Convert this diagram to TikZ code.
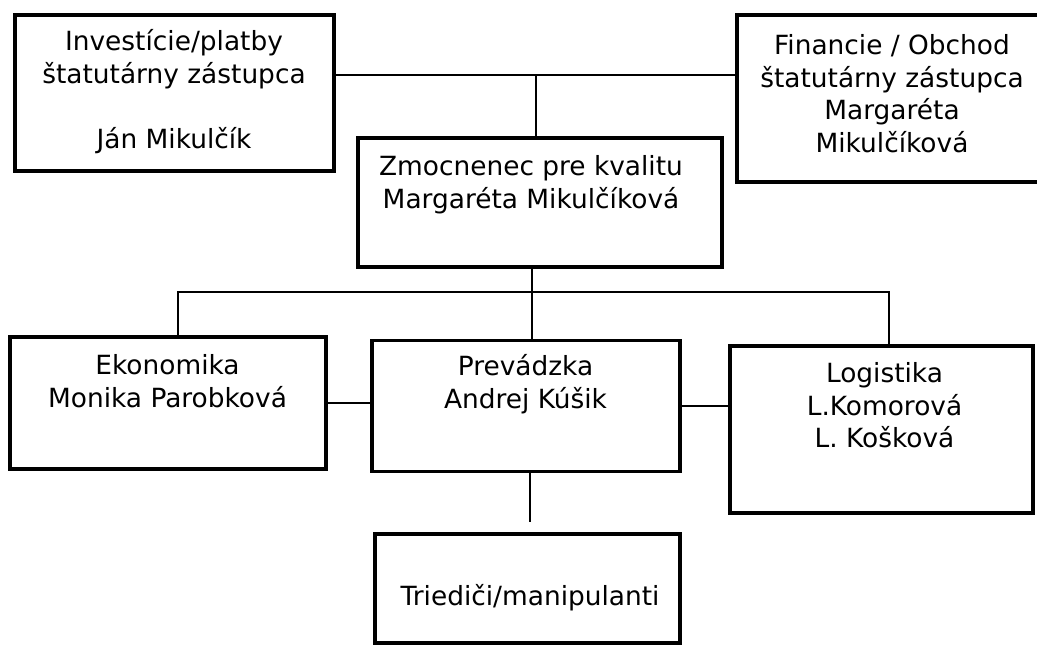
\documentclass[tikz,border=0pt]{standalone}
\usepackage{fontspec}
\setmainfont{DejaVu Sans}
\begin{document}
\begin{tikzpicture}[x=1pt,y=-1pt,
  box/.style={draw=black, line width=3.4pt, rectangle, inner sep=0pt},
  conn/.style={draw=black, line width=2.2pt},
  txt/.style={anchor=north, align=center, inner sep=0pt, text=black,
    font=\fontsize{26.4pt}{32.5pt}\selectfont, execute at begin node=\strut}]
\useasboundingbox (0,0) rectangle (1037,646);
\clip (0,0) rectangle (1037,646);
% boxes
\node[box, minimum width=319pt, minimum height=156pt] (b1) at (174.5,93) {};
\node[box, minimum width=310pt, minimum height=167pt] (b2) at (892,98.5) {};
\node[box, minimum width=364pt, minimum height=129pt] (mid) at (540,202.5) {};
\node[box, minimum width=316pt, minimum height=132pt] (eko) at (168,403) {};
\node[box, minimum width=308pt, minimum height=131pt] (prev) at (526,406) {};
\node[box, minimum width=303pt, minimum height=167pt] (log) at (881.5,429.5) {};
\node[box, minimum width=305pt, minimum height=109pt] (tri) at (527.5,588.5) {};
% texts
\node[txt] (b1t) at (174,29.25) {Investície/platby\\štatutárny zástupca\\[32.5pt]Ján Mikulčík};
\node[txt] (b2t) at (892,34.25) {Financie / Obchod\\štatutárny zástupca\\Margaréta\\Mikulčíková};
\node[txt] (midt) at (531,155.25) {Zmocnenec pre kvalitu\\Margaréta Mikulčíková};
\node[txt] (ekot) at (167.5,354.25) {Ekonomika\\Monika Parobková};
\node[txt] (prevt) at (525.5,354.25) {Prevádzka\\Andrej Kúšik};
\node[txt] (logt) at (884.5,362.25) {Logistika\\L.Komorová\\L. Košková};
\node[txt] (trit) at (530,582.25) {Triediči/manipulanti};
% junction coordinates
\coordinate (j1) at (536,75);
\coordinate (jm) at (532,292);
\coordinate (jl) at (178,292);
\coordinate (jr) at (889,292);
\coordinate (jb) at (530,522);
% connectors
\draw[conn] (b1.east |- j1) -- (b2.west |- j1);
\draw[conn] (j1) -- (mid.north -| j1);
\draw[conn] (mid.south -| jm) -- (prev.north -| jm);
\draw[conn] (eko.north -| jl) -- (jl) -- (jr) -- (log.north -| jr);
\draw[conn] (eko.east) -- (eko.east -| prev.west);
\draw[conn] (prev.east) -- (prev.east -| log.west);
\draw[conn] (prev.south -| jb) -- (jb);
\end{tikzpicture}
\end{document}
